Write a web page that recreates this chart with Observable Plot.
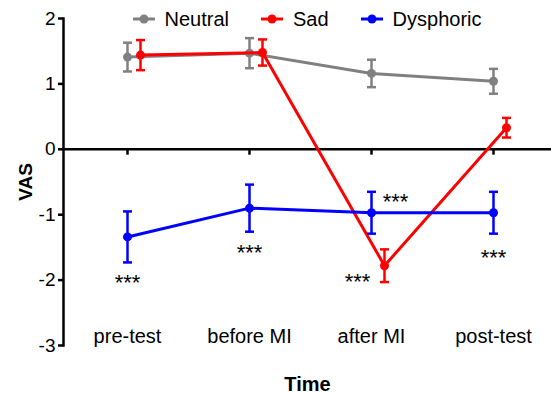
<!DOCTYPE html>
<html>
<head>
<meta charset="utf-8">
<script src="https://cdn.jsdelivr.net/npm/d3@7"></script>
<script src="https://cdn.jsdelivr.net/npm/@observablehq/plot@0.6"></script>
<style>
  html, body { margin: 0; padding: 0; background: #fff; }
  #wrap { position: relative; width: 551px; height: 393px; font-family: "Liberation Sans", Arial, sans-serif; }
  #legend { position: absolute; top: 7px; left: 63px; width: 488px; display: flex; justify-content: center; gap: 32px; font-size: 20px; color: #000; line-height: 24px; }
  #legend .item { display: flex; align-items: center; gap: 10px; }
  g[aria-label="x-axis label"] text, g[aria-label="y-axis label"] text { font-weight: bold; }
</style>
</head>
<body>
<div id="wrap"><div id="legend"></div></div>
<script>
const times = ["pre-test", "before MI", "after MI", "post-test"];
const seriesNames = ["Neutral", "Sad", "Dysphoric"];
const seriesColors = ["#808080", "#ff0000", "#0000ff"];
const neutralMean = [1.41, 1.47, 1.16, 1.04];
const neutralErr  = [0.22, 0.23, 0.21, 0.19];
const sadMean     = [1.44, 1.48, -1.78, 0.33];
const sadErr      = [0.23, 0.20, 0.25, 0.15];
const dysMean     = [-1.34, -0.90, -0.97, -0.97];
const dysErr      = [0.39, 0.36, 0.32, 0.32];
const yTicks = [-3, -2, -1, 0, 1, 2];
// significance labels (below/beside points)
const starsCenterTime  = ["pre-test", "before MI", "post-test"];
const starsCenterValue = [-2.05, -1.58, -1.66];
const starsDysAfterTime = ["after MI"];
const starsDysAfterValue = [-0.81];
const starsSadAfterTime = ["after MI"];
const starsSadAfterValue = [-2.03];

const mk = (means, errs) => times.map((t, i) => ({time: t, mean: means[i], lo: means[i] - errs[i], hi: means[i] + errs[i]}));
const neutral = mk(neutralMean, neutralErr);
const sad = mk(sadMean, sadErr);
const dys = mk(dysMean, dysErr);

const capSymbol = {
  draw(context, size) {
    const r = Math.sqrt(size / Math.PI);
    context.moveTo(-r, 0);
    context.lineTo(r, 0);
  }
};

function seriesMarks(data, color, dx) {
  return [
    Plot.line(data, {x: "time", y: "mean", stroke: color, strokeWidth: 3, dx}),
    Plot.ruleX(data, {x: "time", y1: "lo", y2: "hi", stroke: color, strokeWidth: 2.5, dx}),
    Plot.dot(data, {x: "time", y: "lo", symbol: capSymbol, r: 4.5, stroke: color, strokeWidth: 2.5, dx}),
    Plot.dot(data, {x: "time", y: "hi", symbol: capSymbol, r: 4.5, stroke: color, strokeWidth: 2.5, dx}),
    Plot.dot(data, {x: "time", y: "mean", r: 4.5, fill: color, stroke: "none", dx})
  ];
}

const starText = (tt, vv) => tt.map((t, i) => ({time: t, v: vv[i]}));
const starStyle = {x: "time", y: "v", text: () => "***", fontSize: 22, fill: "#000"};

const chart = Plot.plot({
  width: 551,
  height: 393,
  marginLeft: 63,
  marginRight: 0,
  marginTop: 18,
  marginBottom: 48,
  style: {fontFamily: "Liberation Sans, Arial, sans-serif", background: "transparent"},
  x: {domain: times, type: "point", range: [65, 555], padding: 0.5},
  y: {domain: [-3, 2]},
  marks: [
    Plot.axisY(yTicks, {tickSize: 5, tickPadding: 3, strokeWidth: 2.5, fontSize: 19, tickFormat: d => String(d), label: "VAS", labelArrow: "none", labelAnchor: "center", labelOffset: 45, color: "#000"}),
    Plot.axisX({anchor: "bottom", tickSize: 0, tickPadding: -17, fontSize: 20, label: "Time", labelArrow: "none", labelAnchor: "center", color: "#000"}),
    Plot.frame({anchor: "left", strokeWidth: 2.5, stroke: "#000"}),
    Plot.ruleY([0], {strokeWidth: 2.5, stroke: "#000"}),
    Plot.ruleX(times, {x: d => d, y1: 0, y2: -0.09, strokeWidth: 2.5, stroke: "#000"}),
    ...seriesMarks(neutral, seriesColors[0], 0),
    ...seriesMarks(sad, seriesColors[1], 13),
    ...seriesMarks(dys, seriesColors[2], 0),
    Plot.text(starText(starsCenterTime, starsCenterValue), {...starStyle}),
    Plot.text(starText(starsDysAfterTime, starsDysAfterValue), {...starStyle, dx: 24}),
    Plot.text(starText(starsSadAfterTime, starsSadAfterValue), {...starStyle, dx: -14})
  ]
});

const wrap = document.getElementById("wrap");
wrap.insertBefore(chart, wrap.firstChild);

const legend = document.getElementById("legend");
seriesNames.forEach((name, i) => {
  const item = document.createElement("div");
  item.className = "item";
  item.innerHTML = `<svg width="22" height="12"><line x1="0" y1="6" x2="22" y2="6" stroke="${seriesColors[i]}" stroke-width="3"/><circle cx="11" cy="6" r="4.5" fill="${seriesColors[i]}"/></svg><span>${name}</span>`;
  legend.appendChild(item);
});
</script>
</body>
</html>
